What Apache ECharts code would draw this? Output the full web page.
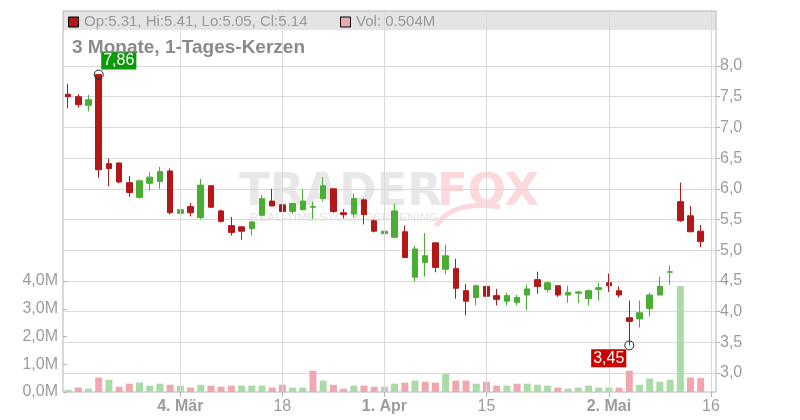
<!DOCTYPE html>
<html><head><meta charset="utf-8">
<script src="https://cdn.jsdelivr.net/npm/echarts/dist/echarts.min.js"></script>
<style>html,body{margin:0;padding:0;background:#fff}#c{width:800px;height:420px}</style>
</head><body><div id="c"></div>
<script>
// ---- data ----
const categories = [
 '2024-02-16','2024-02-19','2024-02-20','2024-02-21','2024-02-22','2024-02-23',
 '2024-02-26','2024-02-27','2024-02-28','2024-02-29','2024-03-01',
 '2024-03-04','2024-03-05','2024-03-06','2024-03-07','2024-03-08',
 '2024-03-11','2024-03-12','2024-03-13','2024-03-14','2024-03-15',
 '2024-03-18','2024-03-19','2024-03-20','2024-03-21','2024-03-22',
 '2024-03-25','2024-03-26','2024-03-27','2024-03-28','2024-03-29',
 '2024-04-01','2024-04-02','2024-04-03','2024-04-04','2024-04-05',
 '2024-04-08','2024-04-09','2024-04-10','2024-04-11','2024-04-12',
 '2024-04-15','2024-04-16','2024-04-17','2024-04-18','2024-04-19',
 '2024-04-22','2024-04-23','2024-04-24','2024-04-25','2024-04-26',
 '2024-04-29','2024-04-30','2024-05-02','2024-05-03',
 '2024-05-06','2024-05-07','2024-05-08','2024-05-09','2024-05-10',
 '2024-05-13','2024-05-14','2024-05-15','2024-05-16'
];
const openV  = [7.54,7.50,7.36,7.86,6.41,6.42,6.10,5.86,6.09,6.12,6.29,5.60,5.71,5.53,6.05,5.64,5.40,5.38,5.35,5.57,5.80,5.74,5.63,5.66,5.70,5.84,6.00,5.61,5.59,5.82,5.48,5.27,5.21,5.30,4.56,4.80,5.12,4.69,4.70,4.34,4.23,4.41,4.26,4.17,4.15,4.27,4.52,4.36,4.42,4.27,4.30,4.21,4.36,4.47,4.34,3.90,3.88,4.05,4.27,4.64,5.79,5.56,5.31];
const closeV = [7.50,7.37,7.45,6.31,6.33,6.11,5.94,6.13,6.19,6.28,5.61,5.66,5.61,6.06,5.70,5.47,5.29,5.31,5.46,5.84,5.72,5.63,5.76,5.80,5.71,6.05,5.63,5.58,5.84,5.58,5.31,5.31,5.64,4.88,5.02,4.91,4.72,4.91,4.38,4.17,4.42,4.25,4.20,4.26,4.23,4.37,4.41,4.47,4.27,4.31,4.32,4.34,4.39,4.42,4.27,3.84,3.98,4.27,4.41,4.65,5.48,5.30,5.14];
const lowV   = [7.31,7.32,7.26,6.18,6.04,6.09,5.87,5.84,5.97,6.00,5.58,5.52,5.55,5.50,5.69,5.45,5.24,5.17,5.24,5.55,5.72,5.55,5.59,5.65,5.51,5.79,5.61,5.52,5.53,5.42,5.29,5.06,5.21,4.88,4.49,4.57,4.64,4.61,4.21,3.94,4.10,4.20,4.10,4.10,4.10,4.02,4.29,4.31,4.24,4.14,4.14,4.10,4.18,4.32,4.23,3.45,3.74,3.92,4.27,4.44,5.46,5.30,5.05];
const highV  = [7.71,7.54,7.53,7.86,6.49,6.43,6.21,6.15,6.27,6.36,6.33,5.80,5.77,6.16,6.05,5.66,5.54,5.39,5.48,5.90,6.00,5.74,5.76,5.99,5.79,6.19,6.00,5.67,5.92,5.84,5.50,5.35,5.76,5.40,5.07,5.28,5.12,5.09,4.86,4.45,4.44,4.42,4.37,4.31,4.27,4.44,4.65,4.49,4.42,4.42,4.34,4.36,4.47,4.62,4.41,4.18,4.18,4.31,4.57,4.75,6.10,5.72,5.41];
const volumeM = [0.08,0.16,0.12,0.52,0.44,0.19,0.30,0.34,0.23,0.30,0.26,0.23,0.16,0.26,0.23,0.19,0.23,0.23,0.23,0.23,0.16,0.26,0.16,0.16,0.77,0.41,0.26,0.12,0.23,0.23,0.19,0.19,0.30,0.34,0.41,0.37,0.34,0.66,0.41,0.41,0.30,0.37,0.23,0.23,0.30,0.30,0.26,0.23,0.16,0.12,0.16,0.23,0.16,0.16,0.16,0.77,0.26,0.48,0.37,0.44,3.82,0.52,0.50];
const tickDates = ['2024-03-04','2024-03-18','2024-04-01','2024-04-15','2024-05-02','2024-05-16'];
const tickText  = ['4. Mär','18','1. Apr','15','2. Mai','16'];
const tickBold  = [true,false,true,false,true,false];
const legendText = 'Op:5.31, Hi:5.41, Lo:5.05, Cl:5.14';
const volText = 'Vol: 0.504M';
const titleText = '3 Monate, 1-Tages-Kerzen';

// ---- styles ----
const RED='#b31818', GREEN='#4aae33', VPINK='#f0a7af', VGREEN='#aadba8', VGRAY='#c6c6c6';
const GRIDC='#d9d9d9', FRAME='#b4b4b4', TXT='#9c9c9c';
const FONT='Liberation Sans, Arial, sans-serif';
const L=63, R=84;

const ohlc = openV.map((o,i)=>[o, closeV[i], lowV[i], highV[i]]);
const volData = volumeM.map((v,i)=>{
  let c = VGREEN;
  if (i>0) { c = closeV[i]>closeV[i-1] ? VGREEN : (closeV[i]<closeV[i-1] ? VPINK : VGRAY); }
  return {value:v, itemStyle:{color:c}};
});
const tickIdx = tickDates.map(d=>categories.indexOf(d));
const isTick = (i)=>tickIdx.indexOf(i)>=0;
const fmtComma = (v,d)=>v.toFixed(d).replace('.',',');

const chart = echarts.init(document.getElementById('c'), null, {renderer:'canvas'});
chart.setOption({
  animation:false,
  textStyle:{fontFamily:FONT},
  grid:[
    {left:L,right:R,top:11,height:19,show:true,backgroundColor:'#e4e4e4',borderWidth:0,z:-1},
    {left:L,right:R,top:11,bottom:28,show:true,borderColor:FRAME,borderWidth:1,backgroundColor:'rgba(0,0,0,0)'},
    {left:L,right:R,top:66,bottom:47},
    {left:L,right:R,top:281,bottom:28}
  ],
  xAxis:[
    {gridIndex:0,type:'category',data:categories,show:false},
    {gridIndex:1,type:'category',data:categories,boundaryGap:true,
     axisLine:{show:false},
     axisTick:{show:true,alignWithLabel:true,interval:(i)=>isTick(i),length:5,lineStyle:{color:FRAME}},
     axisLabel:{interval:(i)=>isTick(i),margin:7,
       formatter:(v,i)=>{const k=tickIdx.indexOf(i); if(k<0) return ''; return (tickBold[k]?'{b|':'{n|')+tickText[k]+'}';},
       rich:{b:{fontWeight:'bold',fontSize:16,color:TXT,fontFamily:FONT},n:{fontSize:16,color:TXT,fontFamily:FONT}}},
     splitLine:{show:false}},
    {gridIndex:2,type:'category',data:categories,show:false},
    {gridIndex:3,type:'category',data:categories,show:false}
  ],
  yAxis:[
    {gridIndex:0,type:'value',show:false,min:0,max:1},
    {gridIndex:1,type:'value',show:false,min:0,max:1},
    {gridIndex:2,type:'value',position:'right',min:3,max:8,interval:0.5,
     axisLine:{show:false},
     axisTick:{show:true,length:4,lineStyle:{color:FRAME}},
     axisLabel:{margin:4,fontSize:16,color:TXT,fontFamily:FONT,formatter:(v)=>fmtComma(v,1)},
     splitLine:{show:true,lineStyle:{color:GRIDC,width:1}}},
    {gridIndex:3,type:'value',position:'left',min:0,max:4,interval:1,
     axisLine:{show:false},
     axisTick:{show:true,inside:true,length:4,lineStyle:{color:FRAME}},
     axisLabel:{margin:5,fontSize:16,color:TXT,fontFamily:FONT,formatter:(v)=>fmtComma(v,1)+'M'},
     splitLine:{show:false}}
  ],
  graphic:[
    {type:'text',z:0,style:{text:'TRADER',x:239,y:193,verticalAlign:'middle',font:'bold 45px DejaVu Sans',fill:'#e8e8e8'}},
    {type:'text',z:0,style:{text:'FOX',x:437,y:193,verticalAlign:'middle',font:'bold 45px DejaVu Sans',fill:'#fbd9dd'}},
    {type:'text',z:0,scaleX:1.12,originX:250,style:{text:'REAL-TIME STOCK SCREENING',x:250,y:218,verticalAlign:'middle',font:'11px Liberation Sans',fill:'#e4e4e4'}},
    {type:'bezierCurve',z:0,shape:{x1:436,y1:226,cpx1:452,cpy1:200,x2:500,y2:207},style:{stroke:'#fbd9dd',lineWidth:5,fill:null}},
    {type:'rect',z:10,shape:{x:68.5,y:17,width:10,height:10},style:{fill:RED,stroke:'#000',lineWidth:1}},
    {type:'text',z:10,style:{text:legendText,x:84,y:21.5,verticalAlign:'middle',font:'15px '+FONT,fill:'#999'}},
    {type:'rect',z:10,shape:{x:340.5,y:17,width:10,height:10},style:{fill:VPINK,stroke:'#000',lineWidth:1}},
    {type:'text',z:10,style:{text:volText,x:356,y:21.5,verticalAlign:'middle',font:'15px '+FONT,fill:'#999'}},
    {type:'text',z:10,style:{text:titleText,x:72,y:48,verticalAlign:'middle',font:'bold 19px '+FONT,fill:'#8a8a8a'}}
  ],
  series:[
    {type:'line',xAxisIndex:1,yAxisIndex:1,data:[],silent:true,
     markLine:{silent:true,animation:false,symbol:'none',label:{show:false},
       lineStyle:{color:GRIDC,type:'solid',width:1},
       data:tickDates.map(d=>({xAxis:d}))}},
    {type:'candlestick',xAxisIndex:2,yAxisIndex:2,barWidth:6,data:ohlc,
     itemStyle:{color:GREEN,color0:RED,borderColor:GREEN,borderColor0:RED,borderWidth:1},
     markPoint:{symbol:'circle',symbolSize:9,silent:true,animation:false,
       itemStyle:{color:'rgba(255,255,255,0)',borderColor:'#222',borderWidth:1},
       data:[
         {type:'max',valueDim:'highest',label:{show:true,position:[7.5,-18],formatter:(p)=>fmtComma(p.value,2),
           color:'#fff',fontSize:16,fontFamily:FONT,backgroundColor:'#0a9a0a',padding:[1,2,1,2]}},
         {type:'min',valueDim:'lowest',label:{show:true,position:[2,9],align:'right',formatter:(p)=>fmtComma(p.value,2),
           color:'#fff',fontSize:16,fontFamily:FONT,backgroundColor:'#cc0000',padding:[1,2,1,2]}}
       ]}},
    {type:'bar',xAxisIndex:3,yAxisIndex:3,barWidth:7,data:volData}
  ]
});
</script></body></html>
